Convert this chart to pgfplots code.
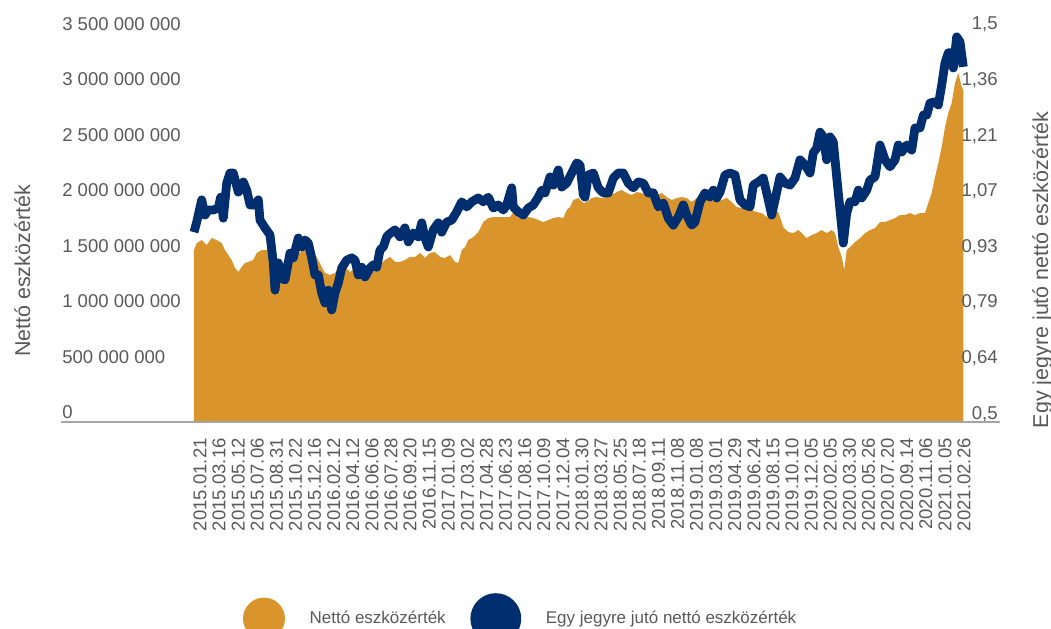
\documentclass[border=0pt]{standalone}
\usepackage{pgfplots}
\pgfplotsset{compat=1.18}
\usepackage{fontspec}
\setmainfont{Liberation Sans}
\definecolor{orangeC}{HTML}{D9952C}
\definecolor{blueC}{HTML}{002E6E}
\definecolor{textgray}{HTML}{595959}
\definecolor{axisgray}{HTML}{A6A6A6}
\newlength{\px}\setlength{\px}{0.75pt}
\begin{document}
\begin{tikzpicture}
\useasboundingbox (0,0) rectangle (1051\px,629\px);
\pgfplotsset{
  base/.style={
    scale only axis, width=577.875pt, height=291.75pt,
    at={(194\px,207\px)}, anchor=south west,
    xmin=0, xmax=1541, enlargelimits=false,
    axis line style={draw=none}, major tick length=0pt, tick style={draw=none},
    /pgf/number format/assume math mode=true,
    every tick label/.append style={font=\fontsize{13.9}{16}\selectfont, text=textgray},
  }
}
\begin{axis}[base,
  axis y line*=left, axis x line*=bottom,
  ymin=0, ymax=3500,
  ytick={0,500,1000,1500,2000,2500,3000,3500},
  yticklabels={0,500 000 000,1 000 000 000,1 500 000 000,2 000 000 000,2 500 000 000,3 000 000 000,3 500 000 000},
  yticklabel style={anchor=base west, inner sep=0pt, xshift=-99pt, yshift=2.25pt},
  xtick={12,50.2,88.4,126.6,164.8,203,241.2,279.4,317.6,355.8,394,432.2,470.4,508.6,546.8,585,623.2,661.4,699.6,737.8,776,814.2,852.4,890.6,928.8,967,1005.2,1043.4,1081.6,1119.8,1158,1196.2,1234.4,1272.6,1310.8,1349,1387.2,1425.4,1463.6,1501.8,1540},
  xticklabels={2015.01.21,2015.03.16,2015.05.12,2015.07.06,2015.08.31,2015.10.22,2015.12.16,2016.02.12,2016.04.12,2016.06.06,2016.07.28,2016.09.20,2016.11.15,2017.01.09,2017.03.02,2017.04.28,2017.06.23,2017.08.16,2017.10.09,2017.12.04,2018.01.30,2018.03.27,2018.05.25,2018.07.18,2018.09.11,2018.11.08,2019.01.08,2019.03.01,2019.04.29,2019.06.24,2019.08.15,2019.10.10,2019.12.05,2020.02.05,2020.03.30,2020.05.26,2020.07.20,2020.09.14,2020.11.06,2021.01.05,2021.02.26},
  xticklabel style={yshift=-12pt, rotate=90, anchor=east, inner sep=0pt},
  ylabel={Nettó eszközérték},
  every axis y label/.style={at={(axis description cs:-0.2128,0.388)}, rotate=90, anchor=base, font=\fontsize{16.1}{19}\selectfont, text=textgray},
]
\addplot[fill=orangeC, draw=none] table {
0 1547
5.4 1610
15.4 1637
25.4 1592
35.4 1655
45.4 1637
55.4 1610
62 1547
68.6 1502
75.4 1458
82 1386
88.6 1350
95.4 1395
102 1431
108.6 1440
118.6 1458
125.4 1521
135.4 1547
145.4 1547
152 1565
158.6 1458
168.6 1413
182 1440
192 1485
205.4 1502
218.6 1547
228.6 1574
235.4 1521
245.4 1485
255.4 1395
262 1341
272 1323
282 1341
292 1413
302 1395
312 1350
322 1386
332 1386
342 1368
352 1368
362 1386
372 1413
382 1458
392 1485
402 1440
412 1440
422 1458
432 1485
442 1485
452 1521
462 1476
472 1521
482 1529
492 1485
502 1476
512 1502
522 1440
528.6 1431
535.4 1547
542 1574
548.6 1637
558.6 1664
568.6 1709
578.6 1799
588.6 1835
598.6 1844
608.6 1844
622 1844
632 1844
638.6 1889
648.6 1835
658.6 1835
668.6 1844
678.6 1835
688.6 1817
698.6 1799
708.6 1817
718.6 1835
728.6 1844
738.6 1835
745.4 1907
752 1934
758.6 1997
768.6 2015
778.6 1970
785.4 1979
795.4 2015
805.4 2024
815.4 2015
825.4 2024
835.4 2042
845.4 2069
855.4 2087
865.4 2060
875.4 2042
885.4 2069
895.4 2060
905.4 2042
915.4 2060
925.4 2042
935.4 2060
945.4 2024
955.4 1997
965.4 2015
975.4 2024
985.4 2015
995.4 1979
1005.4 2015
1015.4 2042
1025.4 2015
1035.4 1997
1045.4 1997
1055.4 1997
1065.4 2015
1075.4 1979
1085.4 1934
1095.4 1925
1105.4 1907
1115.4 1907
1125.4 1889
1135.4 1880
1145.4 1844
1155.4 1862
1165.4 1889
1168.6 1889
1178.6 1754
1188.6 1709
1198.6 1700
1208.6 1727
1215.4 1700
1225.4 1655
1235.4 1682
1245.4 1700
1255.4 1727
1265.4 1700
1275.4 1727
1282 1700
1288.6 1574
1295.4 1485
1300.6 1368
1305.4 1547
1312 1574
1322 1619
1332 1655
1342 1700
1352 1727
1362 1745
1372 1799
1382 1799
1392 1817
1402 1835
1412 1862
1422 1862
1432 1880
1442 1862
1452 1880
1462 1880
1468.6 1970
1475.4 2060
1482 2204
1488.6 2330
1495.4 2474
1502 2654
1508.6 2780
1515.4 2870
1522 3050
1528.6 3140
1535.4 3014
1538.6 2987
} \closedcycle;
\end{axis}
\begin{axis}[base,
  axis y line*=right, hide x axis, clip=false,
  ymin=0.5, ymax=1.5,
  ytick={0.5,0.642857,0.785714,0.928571,1.071429,1.214286,1.357143,1.5},
  yticklabels={{0,5},{0,64},{0,79},{0,93},{1,07},{1,21},{1,36},{1,5}},
  yticklabel style={anchor=base east, inner sep=0pt, xshift=25.1pt, yshift=2.25pt},
  ylabel={Egy jegyre jutó nettó eszközérték},
  every axis y label/.style={at={(axis description cs:1.1084,0.3907)}, rotate=90, anchor=base, font=\fontsize{16.1}{19}\selectfont, text=textgray},
  legend columns=2,
  legend image code/.code={\fill[#1] (15.75pt,3.75pt) circle (15.75pt);},
  legend style={draw=none, fill=none, inner sep=0pt, outer sep=0pt, column sep=18.5pt,
    nodes={inner sep=0pt, anchor=base west, text=textgray, font=\fontsize{12.75}{15}\selectfont},
    cells={anchor=base west},
    at={(axis description cs:0.0636,-0.5707)}, anchor=south west},
]
\addlegendimage{fill=orangeC, draw=none}
\addlegendentry{Nettó eszközérték}
\addplot[blueC, line width=6.6pt, line join=round] coordinates {
(0,0.988) (5.4,1.014) (15.4,1.071) (22,1.032) (28.6,1.045) (38.6,1.045) (48.6,1.050) (53.4,1.078) (58.6,1.024) (65.4,1.114) (72,1.140) (78.6,1.140) (88.6,1.091) (98.6,1.117) (105.4,1.096) (112,1.058) (122,1.058) (128.6,1.071) (132,1.019) (142,0.999) (152,0.981) (158.6,0.909) (162,0.839) (168.6,0.909) (175.4,0.870) (182,0.865) (192,0.934) (198.6,0.922) (208.6,0.973) (215.4,0.950) (222,0.968) (228.6,0.960) (235.4,0.922) (242,0.878) (248.6,0.878) (255.4,0.832) (262,0.806) (268.6,0.839) (275.4,0.788) (282,0.832) (288.6,0.857) (295.4,0.896) (305.4,0.916) (315.4,0.922) (322,0.916) (328.6,0.878) (335.4,0.898) (342,0.873) (352,0.896) (358.6,0.904) (365.4,0.898) (372,0.942) (378.6,0.950) (385.4,0.976) (388.6,0.981) (402,0.994) (412,0.976) (422,0.999) (428.6,0.963) (438.6,0.986) (448.6,0.976) (455.4,1.012) (462,0.973) (468.6,0.950) (478.6,0.994) (488.6,1.012) (495.4,0.988) (505.4,1.014) (515.4,1.019) (525.4,1.040) (535.4,1.066) (545.4,1.053) (555.4,1.066) (568.6,1.076) (578.6,1.066) (588.6,1.078) (598.6,1.050) (608.6,1.058) (618.6,1.045) (625.4,1.058) (635.4,1.102) (638.6,1.053) (648.6,1.040) (658.6,1.032) (668.6,1.050) (678.6,1.058) (688.6,1.078) (695.4,1.096) (702,1.089) (712,1.130) (718.6,1.109) (728.6,1.148) (735.4,1.104) (745.4,1.114) (755.4,1.140) (765.4,1.166) (772,1.161) (778.6,1.084) (782,1.078) (788.6,1.135) (798.6,1.140) (808.6,1.102) (818.6,1.089) (828.6,1.089) (838.6,1.127) (848.6,1.140) (858.6,1.140) (868.6,1.114) (878.6,1.102) (888.6,1.117) (898.6,1.114) (908.6,1.089) (918.6,1.089) (928.6,1.053) (938.6,1.063) (948.6,1.024) (958.6,1.006) (968.6,1.027) (978.6,1.058) (985.4,1.032) (995.4,1.006) (1002,1.014) (1012,1.066) (1022,1.089) (1032,1.078) (1038.6,1.096) (1045.4,1.076) (1052,1.091) (1062,1.135) (1072,1.140) (1082,1.135) (1092,1.071) (1102,1.058) (1112,1.053) (1118.6,1.109) (1128.6,1.117) (1138.6,1.127) (1148.6,1.071) (1155.4,1.032) (1162,1.071) (1172,1.130) (1182,1.114) (1192,1.109) (1202,1.127) (1212,1.174) (1222,1.161) (1232,1.140) (1238.6,1.192) (1245.4,1.204) (1252,1.245) (1258.6,1.233) (1265.4,1.174) (1272,1.233) (1278.6,1.220) (1285.4,1.130) (1292,1.045) (1298.6,0.960) (1305.4,1.037) (1312,1.066) (1322,1.066) (1328.6,1.096) (1335.4,1.076) (1345.4,1.096) (1352,1.122) (1362,1.130) (1372,1.212) (1382,1.174) (1392,1.156) (1402,1.174) (1408.6,1.212) (1415.4,1.194) (1425.4,1.212) (1435.4,1.199) (1442,1.256) (1452,1.256) (1458.6,1.289) (1465.4,1.289) (1472,1.320) (1482,1.323) (1488.6,1.315) (1495.4,1.366) (1502,1.423) (1508.6,1.449) (1515.4,1.449) (1518.6,1.410) (1525.4,1.490) (1532,1.477) (1538.6,1.413)
};
\addlegendentry{Egy jegyre jutó nettó eszközérték}
\end{axis}
\draw[axisgray, line width=1.95pt] (61\px,207\px) -- (1000\px,207\px);
\end{tikzpicture}
\end{document}
